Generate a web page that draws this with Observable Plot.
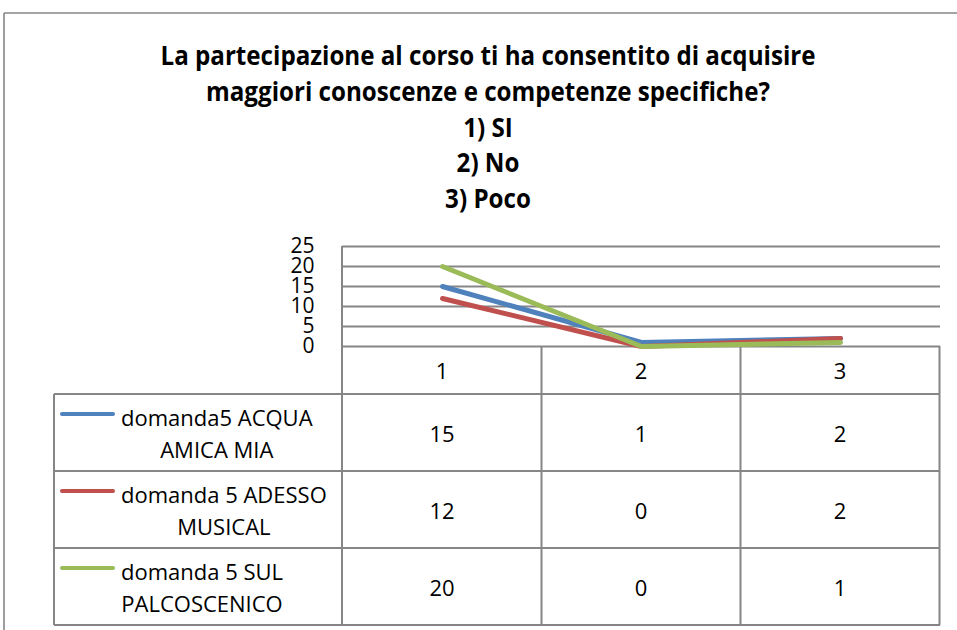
<!DOCTYPE html>
<html><head><meta charset="utf-8">
<script src="https://cdn.jsdelivr.net/npm/d3@7"></script>
<script src="https://cdn.jsdelivr.net/npm/@observablehq/plot@0.6"></script>
<style>
html,body{margin:0;padding:0;background:#fff;}
#wrap{position:relative;width:957px;height:630px;overflow:hidden;background:#fff;}
#wrap svg{position:absolute;left:0;top:0;}
#title{position:absolute;left:0;width:976px;top:37px;text-align:center;font-family:"Open Sans","DejaVu Sans",sans-serif;font-weight:bold;font-size:27px;line-height:35.8px;color:#000;z-index:2;transform-origin:488px 0;}
#title span{white-space:nowrap;}
</style></head><body>
<div id="wrap"><div id="title"></div></div>
<script>
const titleLines = [
  "La partecipazione al corso ti ha consentito di acquisire",
  "maggiori conoscenze e competenze specifiche?",
  "1) SI",
  "2) No",
  "3) Poco"
];
const categories = ["1", "2", "3"];
const seriesNames = ["domanda5 ACQUA AMICA MIA", "domanda 5 ADESSO MUSICAL", "domanda 5 SUL PALCOSCENICO"];
const seriesColors = ["#4F81BD", "#C0504D", "#9BBB59"];
const acqua = [15, 1, 2];
const adesso = [12, 0, 2];
const sul = [20, 0, 1];
const yTicks = [0, 5, 10, 15, 20, 25];

const seriesValues = [acqua, adesso, sul];
const rows = seriesNames.flatMap((s, i) => categories.map((c, j) => ({series: s, cat: c, value: seriesValues[i][j]})));

const titleEl = document.getElementById("title");
titleEl.innerHTML = titleLines.map(t => `<div><span>${t}</span></div>`).join("");
const firstW = titleEl.querySelector("span").getBoundingClientRect().width;
if (firstW > 0) titleEl.style.transform = `scaleX(${655 / firstW})`;

const GRAY = "#868686";
const FONT = "'Open Sans', 'DejaVu Sans', sans-serif";
const FS = 22;

const canvas = document.createElement("canvas");
const ctx = canvas.getContext("2d");
ctx.font = `${FS}px 'Open Sans'`;
function wrap(text, maxW) {
  const words = text.split(" ");
  const lines = [];
  let cur = "";
  for (const w of words) {
    const t = cur ? cur + " " + w : w;
    if (cur && ctx.measureText(t).width > maxW) { lines.push(cur); cur = w; }
    else cur = t;
  }
  if (cur) lines.push(cur);
  return lines;
}

function tableMark(index, scales, values, dims) {
  const x = scales.x;
  const step = typeof x.step === "function" ? x.step() : (x(categories[1]) - x(categories[0]));
  const left = dims.marginLeft, right = dims.width - dims.marginRight;
  const top = dims.marginTop, base = dims.height - dims.marginBottom;
  const headerBottom = base + 48;
  const rowH = 77;
  const tableLeft = 54;
  const tableBottom = headerBottom + rowH * seriesNames.length;
  const g = d3.create("svg:g");
  const line = (x1, y1, x2, y2, w = 2) => g.append("line").attr("x1", x1).attr("y1", y1).attr("x2", x2).attr("y2", y2).attr("stroke", GRAY).attr("stroke-width", w);
  // outer chart-area border
  line(4, 13, dims.width + 10, 13, 1.6);
  line(4, 13, 4, dims.height + 10, 1.6);
  // axis line
  line(left, top, left, tableBottom);
  // column separators
  categories.forEach((c, j) => {
    const xr = x(c) + step / 2;
    line(xr, base, xr, tableBottom);
  });
  // row lines
  for (let i = 0; i <= seriesNames.length; i++) {
    const y = headerBottom + i * rowH;
    line(tableLeft, y, right, y);
  }
  line(tableLeft, headerBottom, tableLeft, tableBottom);
  const text = (tx, ty, s, anchor = "middle") => g.append("text").attr("x", tx).attr("y", ty).attr("text-anchor", anchor)
    .attr("dominant-baseline", "central").attr("font-family", FONT).attr("font-size", FS).attr("fill", "#000").text(s);
  // header
  categories.forEach(c => text(x(c), (base + headerBottom) / 2, c));
  // rows
  seriesNames.forEach((s, i) => {
    const y0 = headerBottom + i * rowH;
    const cy = y0 + rowH / 2;
    g.append("line").attr("x1", 62).attr("x2", 113).attr("y1", y0 + 20).attr("y2", y0 + 20)
      .attr("stroke", seriesColors[i]).attr("stroke-width", 4).attr("stroke-linecap", "round");
    const lines = wrap(s, 215);
    const bw = d3.max(lines, l => ctx.measureText(l).width);
    const cx = 121 + bw / 2;
    const lh = 32;
    lines.forEach((l, k) => text(cx, cy + (k - (lines.length - 1) / 2) * lh, l));
    categories.forEach((c, j) => text(x(c), cy, String(seriesValues[i][j])));
  });
  return g.node();
}

const chart = Plot.plot({
  width: 957,
  height: 630,
  marginLeft: 342,
  marginRight: 17,
  marginTop: 246,
  marginBottom: 284,
  style: {fontFamily: FONT, fontSize: "21px", color: "#000", background: "transparent", overflow: "visible"},
  x: {type: "point", domain: categories, padding: 0.5, axis: null},
  y: {domain: [0, 25], ticks: yTicks, tickSize: 0, tickPadding: 28, label: null, tickFormat: d => String(d)},
  color: {domain: seriesNames, range: seriesColors},
  marks: [
    Plot.ruleY(yTicks, {stroke: GRAY, strokeWidth: 2, strokeOpacity: 1}),
    tableMark,
    Plot.line(rows, {x: "cat", y: "value", z: "series", stroke: "series", strokeWidth: 5, strokeLinecap: "round", strokeLinejoin: "round"})
  ]
});
document.getElementById("wrap").appendChild(chart);
</script>
</body></html>
